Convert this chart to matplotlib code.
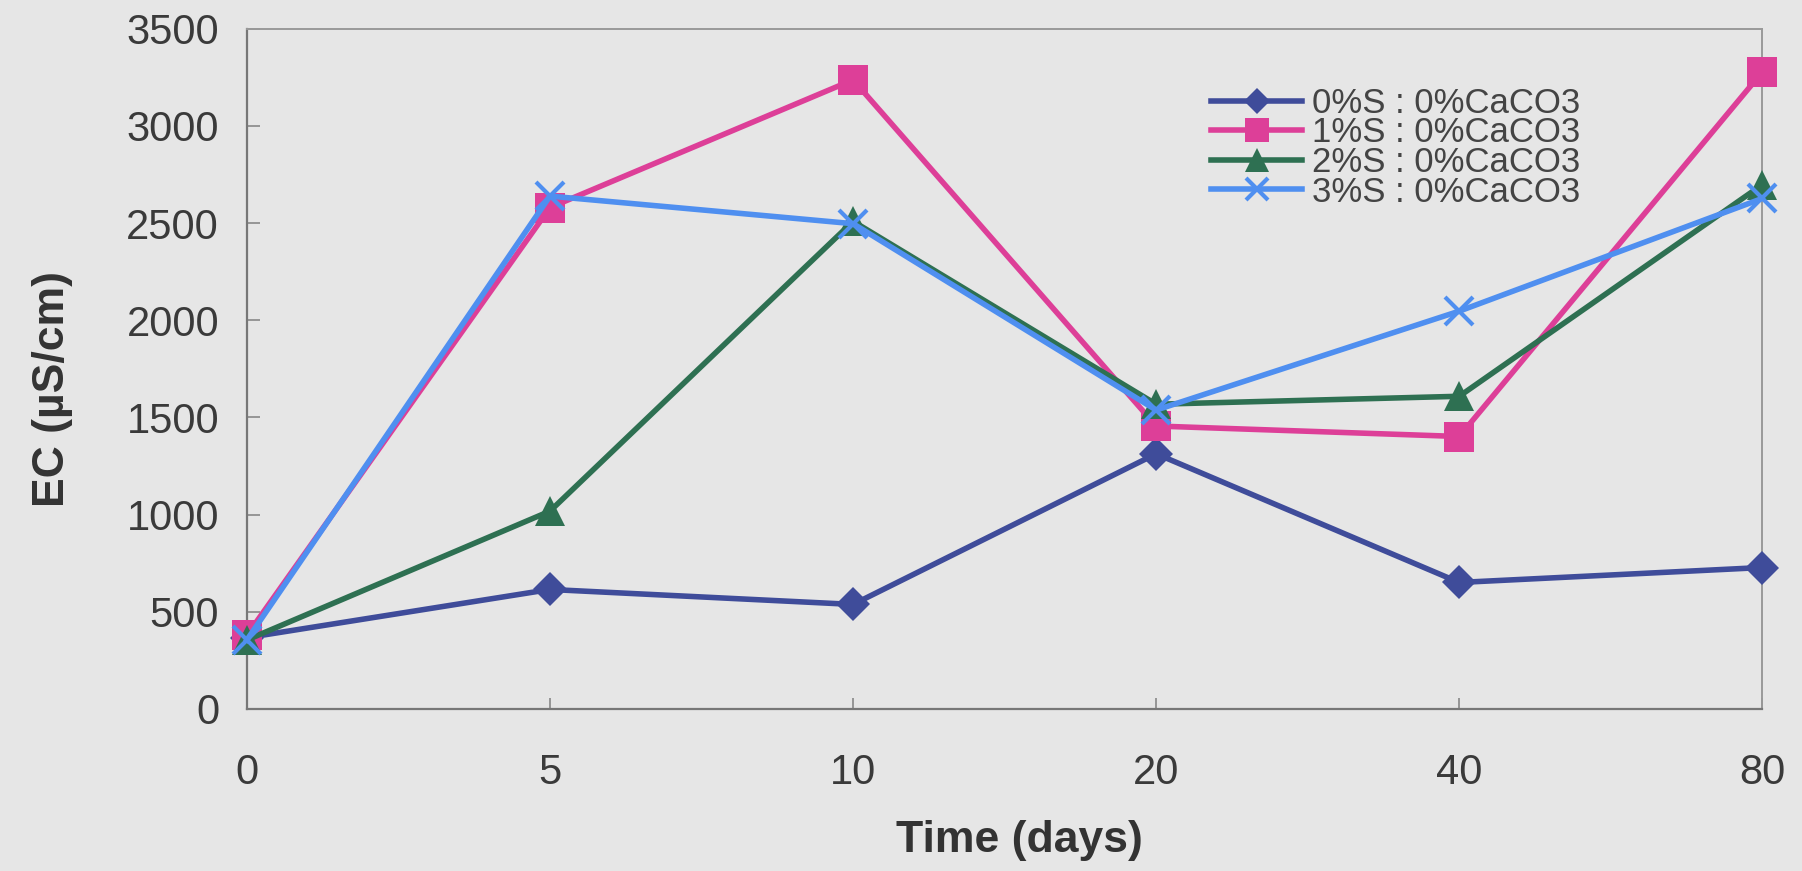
import matplotlib.pyplot as plt

plt.rcParams["font.family"] = ["Liberation Sans", "DejaVu Sans"]

days = ["0", "5", "10", "20", "40", "80"]
labels = ["0%S : 0%CaCO3", "1%S : 0%CaCO3", "2%S : 0%CaCO3", "3%S : 0%CaCO3"]
s0 = [367, 615, 538, 1313, 651, 728]
s1 = [379, 2580, 3237, 1456, 1402, 3278]
s2 = [355, 1018, 2509, 1568, 1609, 2698]
s3 = [355, 2639, 2497, 1538, 2047, 2627]

colors = ["#3f4c9a", "#dd3f98", "#2e7052", "#4f8ff0"]
markers = ["D", "s", "^", "x"]
sizes = [17, 21, 22, 20]

fig = plt.figure(figsize=(18.02, 8.71), dpi=100)
fig.patch.set_facecolor("#e6e6e6")
ax = fig.add_axes([0.137, 0.186, 0.841, 0.781])
ax.set_facecolor("#e6e6e6")

x = list(range(len(days)))
for vals, lab, c, m, ms in zip([s0, s1, s2, s3], labels, colors, markers, sizes):
    ax.plot(x, vals, color=c, lw=4, marker=m, ms=ms, mew=3 if m == "x" else 0,
            mec=c, label=lab, clip_on=False, zorder=3)

ax.set_xlim(0, 5)
ax.set_ylim(0, 3500)
ax.set_xticks(x)
ax.set_xticklabels(days)
ax.set_yticks(range(0, 3501, 500))
ax.tick_params(axis="x", direction="in", length=8, width=1.2, color="#888888",
               pad=32, labelsize=30, labelcolor="#3a3a3a")
ax.tick_params(axis="y", direction="in", length=9, width=1.2, color="#888888",
               pad=20, labelsize=30, labelcolor="#3a3a3a")

for side in ["left", "bottom"]:
    ax.spines[side].set_color("#777777")
    ax.spines[side].set_linewidth(1.6)
for side in ["top", "right"]:
    ax.spines[side].set_color("#999999")
    ax.spines[side].set_linewidth(1.4)

ax.set_xlabel("Time (days)", fontsize=32, fontweight="bold", color="#333333")
ax.xaxis.set_label_coords(0.51, -0.163)
ax.set_ylabel("EC (µS/cm)", fontsize=32, fontweight="bold", color="#333333")
ax.yaxis.set_label_coords(-0.115, 0.47)

leg = ax.legend(loc="upper left", bbox_to_anchor=(0.625, 0.94), frameon=False,
                fontsize=25, handlelength=2.6, handletextpad=0.3,
                labelspacing=-0.1, borderpad=0)
for t in leg.get_texts():
    t.set_color("#444444")
for h in leg.legend_handles:
    h.set_markersize(h.get_markersize() * 0.8)

fig.savefig("out.png", dpi=100, facecolor=fig.get_facecolor())
